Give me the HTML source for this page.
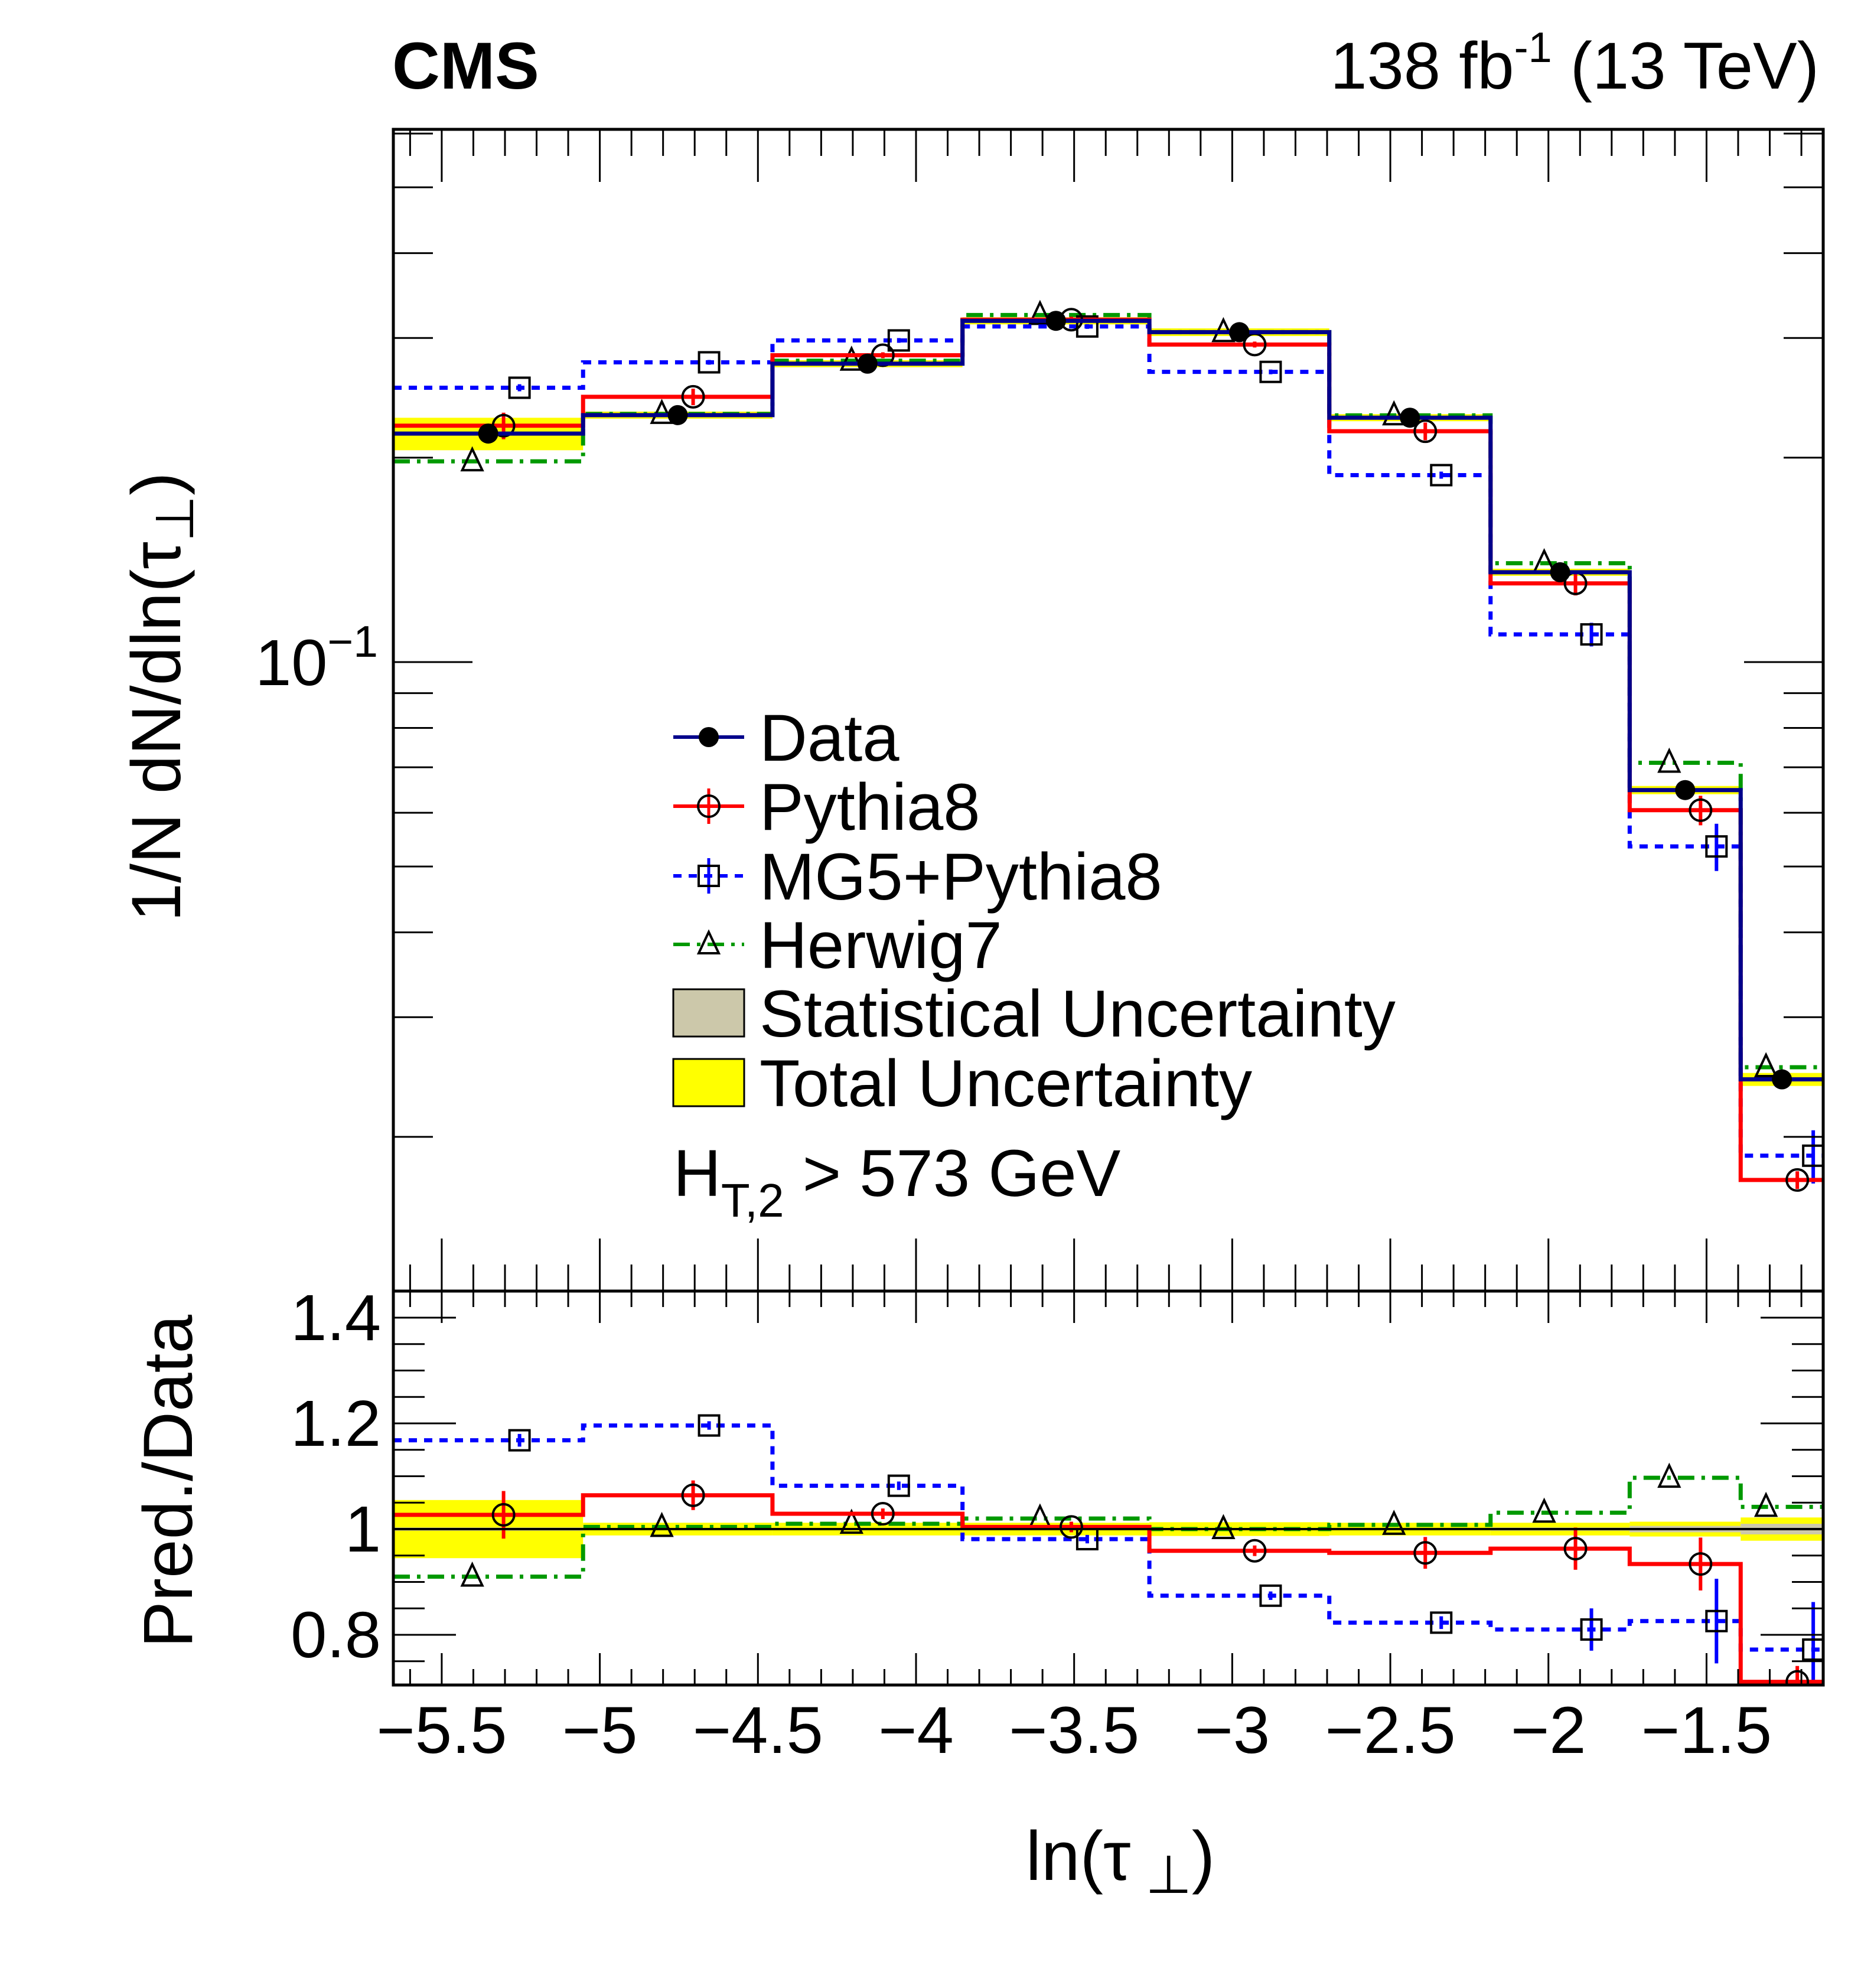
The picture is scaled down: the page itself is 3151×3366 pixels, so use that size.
<!DOCTYPE html>
<html><head><meta charset="utf-8"><style>
body{margin:0;background:#fff}
svg{display:block;font-family:"Liberation Sans",sans-serif}
</style></head><body>
<svg id="c" width="3151" height="3366" viewBox="0 0 3151 3366" xmlns="http://www.w3.org/2000/svg">
<rect width="3151" height="3366" fill="#fff"/>
<g id="g"></g>
<text x="664" y="150" font-size="112" font-weight="bold">CMS</text>
<text x="3080" y="150" font-size="112" text-anchor="end">138 fb<tspan dy="-45" font-size="72">-1</tspan><tspan dy="45"> (13 TeV)</tspan></text>
<text transform="translate(305,1180) rotate(-90)" font-size="118" text-anchor="middle">1/N dN/dln(τ<tspan dy="22" font-size="90">⊥</tspan><tspan dy="-22">)</tspan></text>
<text transform="translate(325,2508) rotate(-90)" font-size="118" text-anchor="middle">Pred./Data</text>
<text x="1897" y="3183" font-size="118" text-anchor="middle">ln(τ<tspan dy="22" font-size="90"> ⊥</tspan><tspan dy="-22">)</tspan></text>
<text x="640" y="1160" font-size="110" text-anchor="end">10<tspan dy="-48" font-size="75">−1</tspan></text>
<text x="1140" y="2025" font-size="112">H<tspan dy="35" font-size="80">T,2</tspan><tspan dy="-35"> &gt; 573 GeV</tspan></text>
</svg>
<script>
const edges=[-5.653,-5.053,-4.454,-3.853,-3.262,-2.693,-2.183,-1.743,-1.392,-1.131];
const dataVals=[0.217,0.231,0.275,0.318,0.306,0.229,0.1356,0.0648,0.0243];
const pythiaRatio=[1.027,1.064,1.029,1.004,0.959,0.955,0.963,0.934,0.711];
const mg5Ratio=[1.168,1.196,1.082,0.981,0.874,0.823,0.810,0.826,0.772];
const herwigRatio=[0.910,1.004,1.010,1.020,1.000,1.008,1.031,1.097,1.042];
const totUnc=[0.055,0.012,0.012,0.012,0.013,0.012,0.012,0.014,0.022];
const statUnc=[0.003,0.002,0.002,0.002,0.002,0.002,0.003,0.006,0.01];
const pythiaErr=[0.045,0.028,0.01,0.01,0.01,0.03,0.04,0.05,0.03];
const mg5Err=[0.012,0.008,0.008,0.008,0.008,0.012,0.04,0.08,0.09];
const xTicks=[-5.5,-5,-4.5,-4,-3.5,-3,-2.5,-2,-1.5];
const xTickLabels=["−5.5","−5","−4.5","−4","−3.5","−3","−2.5","−2","−1.5"];
const rTicks=[0.8,1.0,1.2,1.4];
const rTickLabels=["0.8","1","1.2","1.4"];

const L=666,R=3087,T=219,B=2186,RT=2186,RB=2853;
const XMIN=-5.653,XMAX=-1.131;
const X=v=>L+(v-XMIN)/(XMAX-XMIN)*(R-L);
const Y=v=>1121-1150*Math.log10(v/0.1);
const RY=v=>2589-(v-1)*895;
const NS="http://www.w3.org/2000/svg";
const g=document.getElementById('g');
function el(t,a,p){const e=document.createElementNS(NS,t);for(const k in a)e.setAttribute(k,a[k]);(p||g).appendChild(e);return e;}
function clip(id,y0,y1){const d=el('defs',{});const c=el('clipPath',{id:id},d);el('rect',{x:L,y:y0,width:R-L,height:y1-y0},c);}
clip('ct',T,B);clip('cr',RT,RB);
const gt=el('g',{'clip-path':'url(#ct)'});


const gr=el('g',{'clip-path':'url(#cr)'});



function stepPath(vals,fy){let d='';for(let i=0;i<vals.length;i++){const y=fy(vals[i]);d+=(i?'L':'M')+X(edges[i])+','+y+'L'+X(edges[i+1])+','+y;}return d;}
const styles={data:{c:'#00008b',da:''},pythia:{c:'#ff0000',da:''},mg5:{c:'#0000ff',da:'14,12'},herwig:{c:'#009900',da:'28,12,6,12'}};
const offs={data:0,pythia:26,mg5:53,herwig:-27};

for(let i=0;i<9;i++){
 const x0=X(edges[i]),x1=X(edges[i+1]);
 let r=el('rect',{x:x0,y:Y(dataVals[i]*(1+totUnc[i])),width:x1-x0,height:Y(dataVals[i]*(1-totUnc[i]))-Y(dataVals[i]*(1+totUnc[i])),fill:'#ffff00'},gt);
 
 
 r=el('rect',{x:x0,y:RY(1+totUnc[i]),width:x1-x0,height:RY(1-totUnc[i])-RY(1+totUnc[i]),fill:'#ffff00'},gr);
 
 
 r=el('rect',{x:x0,y:RY(1+statUnc[i]),width:x1-x0,height:RY(1-statUnc[i])-RY(1+statUnc[i]),fill:'#ccc8aa'},gr);
 
 
}
const series={
 herwig:dataVals.map((v,i)=>v*herwigRatio[i]),
 mg5:dataVals.map((v,i)=>v*mg5Ratio[i]),
 pythia:dataVals.map((v,i)=>v*pythiaRatio[i]),
 data:dataVals};
const ratios={herwig:herwigRatio,mg5:mg5Ratio,pythia:pythiaRatio,data:dataVals.map(()=>1)};
const errs={pythia:pythiaErr,mg5:mg5Err,herwig:dataVals.map(()=>0),data:dataVals.map(()=>0.01)};
function marker(kind,cx,cy,parent){
 let m;
 if(kind==='data')m=el('circle',{cx:cx,cy:cy,r:17,fill:'#000'},parent);
 else if(kind==='pythia')m=el('circle',{cx:cx,cy:cy,r:18,fill:'none',stroke:'#000','stroke-width':4},parent);
 else if(kind==='mg5')m=el('rect',{x:cx-17,y:cy-17,width:34,height:34,fill:'none',stroke:'#000','stroke-width':4},parent);
 else m=el('path',{d:`M${cx},${cy-21}L${cx+17},${cy+15}L${cx-17},${cy+15}Z`,fill:'none',stroke:'#000','stroke-width':4},parent);
 
 
}
['herwig','mg5','pythia','data'].forEach(k=>{
 const s=styles[k];
 let p=el('path',{d:stepPath(series[k],Y),fill:'none',stroke:s.c,'stroke-width':7,'stroke-dasharray':s.da},gt);
 
 
 if(k!=='data'){
 p=el('path',{d:stepPath(ratios[k],RY),fill:'none',stroke:s.c,'stroke-width':7,'stroke-dasharray':s.da},gr);
 
 }
 for(let i=0;i<9;i++){
  const cx=(X(edges[i])+X(edges[i+1]))/2+offs[k];
  const v=series[k][i],e=errs[k][i];
  const ec=k==='data'?'#00008b':s.c;
  if(e>0){const b=el('line',{x1:cx,x2:cx,y1:Y(v*(1+e)),y2:Y(v*(1-e)),stroke:ec,'stroke-width':6},gt);
   
   }
  marker(k,cx,Y(v),gt);
  if(k!=='data'){
   const rv=ratios[k][i];
   if(e>0){const b=el('line',{x1:cx,x2:cx,y1:RY(rv+e),y2:RY(rv-e),stroke:ec,'stroke-width':6},gr);
    
    }
   marker(k,cx,RY(rv),gr);
  }
 }
});
el('line',{x1:L,x2:R,y1:RY(1),y2:RY(1),stroke:'#000','stroke-width':4},gr);

function tick(x1,y1,x2,y2,w){el('line',{x1,y1,x2,y2,stroke:'#000','stroke-width':w||3});}
for(let v=-5.6;v<=-1.14;v+=0.1){const x=X(v);const maj=Math.abs(v*2-Math.round(v*2))<0.01;
 tick(x,T,x,T+(maj?89:45));tick(x,B,x,B-(maj?89:45));
 tick(x,RT,x,RT+(maj?54:27));tick(x,RB,x,RB-(maj?54:27));}
[0.02,0.03,0.04,0.05,0.06,0.07,0.08,0.09,0.2,0.3,0.4,0.5,0.6].forEach(v=>{const y=Y(v);tick(L,y,L+67,y);tick(R,y,R-67,y);});
tick(L,Y(0.1),L+134,Y(0.1));tick(R,Y(0.1),R-134,Y(0.1));
for(let v=0.75;v<1.45;v+=0.05){const y=RY(v);const maj=Math.abs(v*10-Math.round(v*10))<0.01&&Math.round(v*10)%2===0;
 tick(L,y,L+(maj?106:53),y);tick(R,y,R-(maj?106:53),y);}
el('rect',{x:L,y:T,width:R-L,height:B-T,fill:'none',stroke:'#000','stroke-width':5});
el('rect',{x:L,y:RT,width:R-L,height:RB-RT,fill:'none',stroke:'#000','stroke-width':5});
xTicks.forEach((v,i)=>{const t=el('text',{x:X(v),y:2968,'font-size':112,'text-anchor':'middle'});t.textContent=xTickLabels[i];
 
 });
rTicks.forEach((v,i)=>{const t=el('text',{x:645,y:RY(v)+38,'font-size':110,'text-anchor':'end'});t.textContent=rTickLabels[i];
 
 });

const leg=[['data','Data',1248],['pythia','Pythia8',1365],['mg5','MG5+Pythia8',1483],['herwig','Herwig7',1599]];
leg.forEach(([k,txt,y])=>{
 const s=styles[k];
 el('line',{x1:1140,x2:1260,y1:y,y2:y,stroke:s.c,'stroke-width':6,'stroke-dasharray':s.da});
 if(k==='pythia'||k==='mg5')el('line',{x1:1200,x2:1200,y1:y-30,y2:y+30,stroke:s.c,'stroke-width':5});
 marker(k,1200,y,g);
 const t=el('text',{x:1286,y:y+40,'font-size':112});t.textContent=txt;
 
 
});
[['#ccc8aa','Statistical Uncertainty',1715],['#ffff00','Total Uncertainty',1833]].forEach(([c,txt,y])=>{
 el('rect',{x:1140,y:y-40,width:120,height:80,fill:c,stroke:'#000','stroke-width':3});
 const t=el('text',{x:1286,y:y+40,'font-size':112});t.textContent=txt;
 
 
});
</script>
</body></html>
